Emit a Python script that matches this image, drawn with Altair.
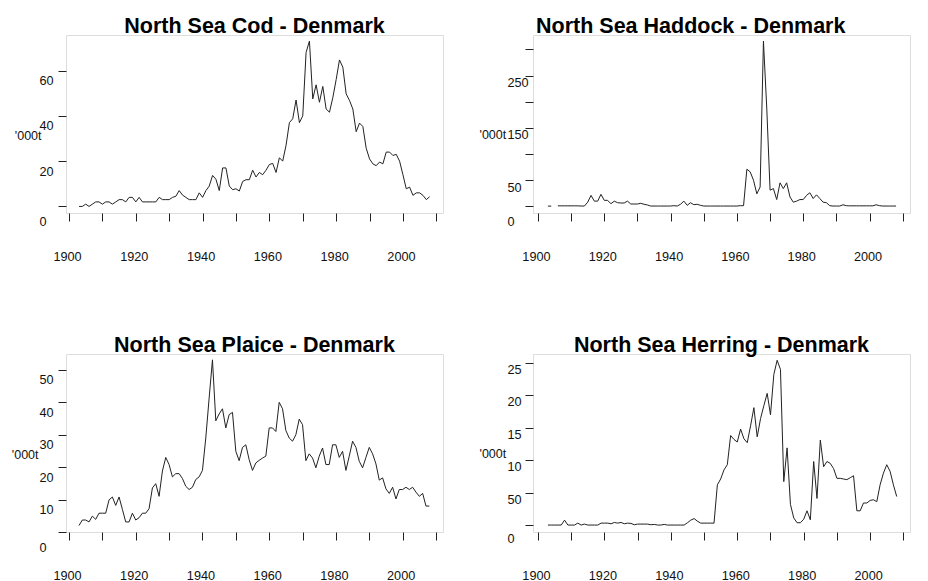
import altair as alt
import pandas as pd

years = list(range(1903, 2009))

cod = [0, 0, 1, 0, 1, 2, 2, 1, 2, 2, 1, 2, 3, 3, 2, 4, 4, 2, 4, 2,
       2, 2, 2, 2, 4, 3, 3, 3, 4, 4.5, 7, 5, 4, 3, 3, 3, 6, 4, 7, 9,
       13.7, 12, 7, 17, 17, 9, 7.4, 7.8, 6.8, 11, 11.8, 11.8, 16, 13, 15, 14, 16, 18.5, 19, 15,
       21.5, 20, 27, 37, 38.7, 47, 37, 40, 68, 73, 47.5, 53.7, 46, 53, 43, 41.6, 48, 56, 64.7, 61.5,
       49.7, 46.8, 43, 33, 36.8, 35.3, 25.7, 21, 18.8, 18, 19.6, 18.8, 24, 24, 22.5, 23, 20, 14, 7.8, 8.5,
       4.9, 6, 6, 4.9, 3, 4.3]

haddock = [0.5, 0.5, None, 1, 1, 1, 1, 1, 1, 1, 0.6, 0.6, 8, 21, 10, 10, 23, 11.5, 11.5, 5,
           10, 7, 6.4, 6.4, 10, 4.5, 4.5, 4.5, 5.8, 4, 2.6, 0.6, 0.6, 0.6, 0.6, 0.6, 0.6, 0.6, 1.3, 0.6,
           4, 10, 2, 7, 3.2, 4, 2, 0.6, 0.6, 0.6, 0.6, 0.6, 0.6, 0.6, 0.6, 0.6, 0.6, 0.6, 1.3, 1.3,
           71, 66, 50, 24, 37, 316, 188, 31, 34, 13, 45, 34, 45, 18, 8, 10, 13, 13, 21, 26,
           15, 22, 15, 8, 7, 1.3, 0.6, 0.6, 0.6, 3, 1.3, 1, 1, 1, 1, 1, 1, 1, 1, 3,
           1.3, 0.6, 0.6, 0.6, 0.6, 0.6]

plaice = [2, 3.7, 3.7, 3.1, 4.9, 3.9, 5.8, 5.8, 5.8, 9.9, 10.8, 8.2, 10.8, 7, 3.1, 3.1, 5.8, 3.7, 4.4, 5.8,
          5.8, 7.2, 13.6, 14.9, 11, 18.8, 23, 20.8, 17, 18, 18, 16.5, 14.1, 13.1, 13.8, 16.2, 17, 19, 29, 41.3,
          53.1, 34.3, 36.4, 38, 32.1, 36.2, 36.9, 24.9, 22, 26.1, 26.9, 22.3, 19, 21.3, 22.1, 22.8, 23.4, 32.1, 32.1, 31,
          40, 38, 31.3, 29, 28, 30, 34.8, 33.1, 22, 24.1, 22.8, 19.8, 23.4, 25.9, 20.8, 20.8, 26.9, 26.9, 23, 24.9,
          19, 23.4, 28, 26.1, 21.8, 19.8, 23, 26.1, 24.1, 21, 16, 16.7, 13.3, 11.9, 13.8, 10.2, 13.1, 13.1, 13.8, 13.1,
          13.8, 12.3, 11, 11.9, 8, 8]

herring = [0, 0, 0, 0, 0, 0.76, 0, 0, 0, 0.3, 0, 0.15, 0, 0, 0, 0, 0.3, 0.3, 0.3, 0.2,
           0.4, 0.3, 0.4, 0.2, 0.3, 0.25, 0.05, 0.15, 0.15, 0.15, 0.15, 0.05, 0.1, 0, 0, 0.1, 0, 0, 0, 0,
           0, 0, 0.36, 0.76, 1, 0.6, 0.3, 0.3, 0.3, 0.3, 0.3, 6.2, 7.1, 8.5, 9.3, 13.8, 13.2, 12.8, 14.8, 13.3,
           12.7, 15.3, 18.1, 13.6, 16.4, 18.4, 20.3, 17, 23.2, 25.4, 24, 6.7, 11.9, 3.2, 1.1, 0.36, 0.36, 0.9, 2.2, 0.8,
           9.8, 4.1, 13.1, 9, 9.8, 9.5, 8.7, 7.2, 7.2, 7.1, 7, 7.3, 7.6, 2.2, 2.2, 3.4, 3.4, 3.8, 3.9, 3.6,
           6.2, 8, 9.3, 8.3, 6.2, 4.4]

titles = ["North Sea Cod - Denmark", "North Sea Haddock - Denmark",
          "North Sea Plaice - Denmark", "North Sea Herring - Denmark"]
series = [cod, haddock, plaice, herring]
y_ticks = [[0, 20, 40, 60],
           [0, 50, 100, 150, 200, 250, 300],
           [0, 10, 20, 30, 40, 50],
           [0, 5, 10, 15, 20, 25]]
y_label_expr = ["datum.label",
                "(datum.value == 0 || datum.value == 50 || datum.value == 150 || datum.value == 250) ? datum.label : ''",
                "datum.label",
                "datum.value == 5 ? '50' : datum.label"]
y_domains = [[-2.9, 75.7], [-12.7, 327.7], [0, 54.9], [-1.07, 26.37]]
x_domains = [[1899.1, 2012.0], [1898.5, 2012.2], [1899.1, 2012.1], [1898.5, 2012.0]]
x_ticks = list(range(1900, 2011, 10))
y_title = "'000t"

FONT = "Liberation Sans"
INK = "#222222"

label_off = [10, 7, 10, 6.5]
label_pad = [19, 18, 19, 18]
title_xy = [(-51.7, 100.7), (-54, 99.4), (-54.7, 100.3), (-54, 99)]
title_anchor = ["middle", "start", "middle", "middle"]
title_dx = [0, 3, 0, 0]


def panel(i):
    df = pd.DataFrame({"year": years, "value": series[i]})
    tx, ty = title_xy[i]
    zero_off = 13 if i == 3 else 15
    off = {"condition": {"test": "datum.value == 0", "value": zero_off}, "value": label_off[i]}
    return alt.Chart(df).mark_line(
        color=INK, strokeWidth=1, invalid="break-paths-show-domains"
    ).encode(
        x=alt.X("year:Q",
                scale=alt.Scale(domain=x_domains[i], nice=False, zero=False),
                axis=alt.Axis(values=x_ticks, format="d", title=None, domain=False, grid=False,
                              tickSize=8, tickColor=INK, labelPadding=29, labelOffset=-2,
                              labelExpr="datum.value % 20 == 0 ? datum.label : ''",
                              labelFont=FONT, labelFontSize=12.7, labelColor="#111111",
                              labelFlush=False, labelOverlap=False)),
        y=alt.Y("value:Q",
                scale=alt.Scale(domain=y_domains[i], nice=False, zero=False),
                axis=alt.Axis(values=y_ticks[i], title=y_title, domain=False, grid=False,
                              tickSize=8, tickColor=INK, labelAlign="left",
                              labelPadding=label_pad[i], labelOffset=off,
                              labelExpr=y_label_expr[i],
                              labelFont=FONT, labelFontSize=12.7, labelColor="#111111",
                              labelFlush=False, labelOverlap=False,
                              titleAngle=0, titleX=tx, titleY=ty, titleAlign="left",
                              titleBaseline="middle", titleFont=FONT, titleFontSize=12.5,
                              titleFontWeight="normal", titleColor="#111111")),
    ).properties(
        width=377, height=178,
        title=alt.TitleParams(titles[i], font=FONT, fontSize=21.5, fontWeight="bold",
                              color="#000000", anchor=title_anchor[i], frame="group",
                              dx=title_dx[i], offset=-2),
    )


chart = alt.concat(
    panel(0), panel(1), panel(2), panel(3),
    columns=2, spacing=alt.RowColnumber(row=141, column=90), bounds="flush"
).properties(
    padding={"left": 2, "top": 7, "right": 5, "bottom": 0}
).configure_view(
    stroke="#111111", strokeWidth=1
).configure(background="white")

chart.save("out.html", embed_options={"renderer": "svg", "actions": False})
